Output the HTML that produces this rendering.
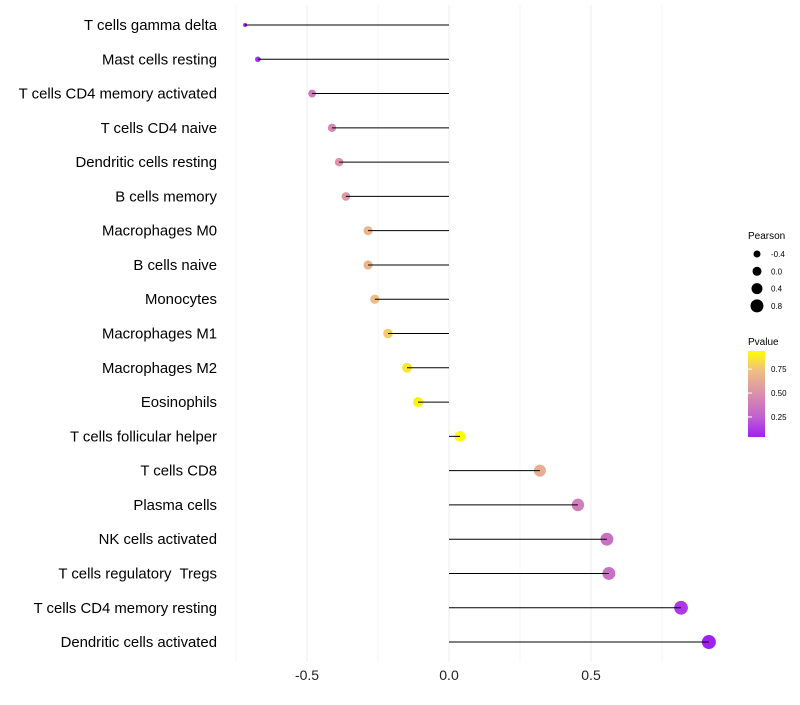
<!DOCTYPE html>
<html><head><meta charset="utf-8">
<style>
body{margin:0;background:#fff;font-family:"Liberation Sans",sans-serif;}
svg text{font-family:"Liberation Sans",sans-serif;white-space:pre;}
</style></head>
<body>
<svg id="chart" width="800" height="700" xmlns="http://www.w3.org/2000/svg">
<defs>
<linearGradient id="pgrad" x1="0" y1="1" x2="0" y2="0">
<stop offset="0" stop-color="#A020F0"/>
<stop offset="0.23" stop-color="#C060D0"/>
<stop offset="0.5" stop-color="#DA90AC"/>
<stop offset="0.78" stop-color="#F0C080"/>
<stop offset="1" stop-color="#FFFF00"/>
</linearGradient>
</defs>
<g id="grid"></g>
<g id="marks"></g>
<g id="labels"></g>
<g id="legend">
<text x="748" y="239" font-size="10" fill="#000">Pearson</text>
<text x="748" y="345" font-size="10" fill="#000">Pvalue</text>
<rect x="748" y="351" width="17" height="86" fill="url(#pgrad)"/>
</g>
</svg>
<script>
const categories=["T cells gamma delta","Mast cells resting","T cells CD4 memory activated","T cells CD4 naive","Dendritic cells resting","B cells memory","Macrophages M0","B cells naive","Monocytes","Macrophages M1","Macrophages M2","Eosinophils","T cells follicular helper","T cells CD8","Plasma cells","NK cells activated","T cells regulatory  Tregs","T cells CD4 memory resting","Dendritic cells activated"];
const pearson=[-0.718,-0.673,-0.482,-0.412,-0.387,-0.363,-0.285,-0.285,-0.261,-0.215,-0.148,-0.109,0.039,0.32,0.454,0.556,0.563,0.817,0.915];
const pvalue=[0.05,0.1,0.38,0.45,0.5,0.53,0.68,0.68,0.72,0.78,0.86,0.9,0.97,0.65,0.4,0.33,0.33,0.12,0.04];
const xTicks=[-0.5,0,0.5];
const xTickLabels=["-0.5","0.0","0.5"];
const minorTicks=[-0.75,-0.25,0.25,0.75];
const sizeLegend=[-0.4,0.0,0.4,0.8];
const colorLegend=[0.25,0.5,0.75];

const NS="http://www.w3.org/2000/svg";
const x=v=>449+v*284;
const y=i=>25+i*34.28;
const r=v=>2+5*Math.sqrt(Math.max(0,(v+0.718)/1.633));
const stops=[[0,[160,32,240]],[0.23,[192,96,208]],[0.5,[218,144,172]],[0.78,[240,192,128]],[1,[255,255,0]]];
function col(p){let t=(p-0.04)/0.9;t=Math.max(0,Math.min(1,t));
 for(let k=1;k<stops.length;k++){if(t<=stops[k][0]){const a=stops[k-1],b=stops[k];const f=(t-a[0])/(b[0]-a[0]);
 const c=a[1].map((v,j)=>Math.round(v+(b[1][j]-v)*f));return `rgb(${c})`;}}return "rgb(255,255,0)";}
function mk(tag,attrs,parent){const e=document.createElementNS(NS,tag);for(const k in attrs)e.setAttribute(k,attrs[k]);parent.appendChild(e);return e;}
const grid=document.getElementById('grid'),marks=document.getElementById('marks'),labels=document.getElementById('labels'),legend=document.getElementById('legend');
minorTicks.forEach(v=>{const l=mk('line',{x1:x(v),x2:x(v),y1:5,y2:662,stroke:'#f5f5f5','stroke-width':1},grid);

});
xTicks.forEach((v,i)=>{const l=mk('line',{x1:x(v),x2:x(v),y1:5,y2:662,stroke:'#eeeeee','stroke-width':1},grid);


const t=mk('text',{x:x(v),y:680,'font-size':14,fill:'#222','text-anchor':'middle'},labels);t.textContent=xTickLabels[i];

});
categories.forEach((c,i)=>{
 const pt=mk('circle',{cx:x(pearson[i]),cy:y(i),r:r(pearson[i]),fill:col(pvalue[i])},marks);
 
 
 const ln=mk('line',{x1:x(0),x2:x(pearson[i]),y1:y(i),y2:y(i),stroke:'#000','stroke-width':1},marks);
 
 
 const t=mk('text',{x:217,y:y(i)+5,'font-size':14.9,fill:'#000','text-anchor':'end'},labels);t.textContent=c;
 
 
});
sizeLegend.forEach((v,i)=>{const cy=254+i*17.3;
 const c=mk('circle',{cx:757,cy:cy,r:3.5+i*1,fill:'#000'},legend);
 
 
 const t=mk('text',{x:771,y:cy+3,'font-size':8,fill:'#000'},legend);t.textContent=v.toFixed(1);
 
 });
colorLegend.forEach(v=>{const cy=437-(v-0.04)/0.9*86;
 const tk=mk('line',{x1:748,x2:752,y1:cy,y2:cy,stroke:'#fff','stroke-width':1},legend);
 
 
 const t=mk('text',{x:771,y:cy+3,'font-size':8,fill:'#000'},legend);t.textContent=v.toFixed(2);
 
 });
</script>
</body></html>
